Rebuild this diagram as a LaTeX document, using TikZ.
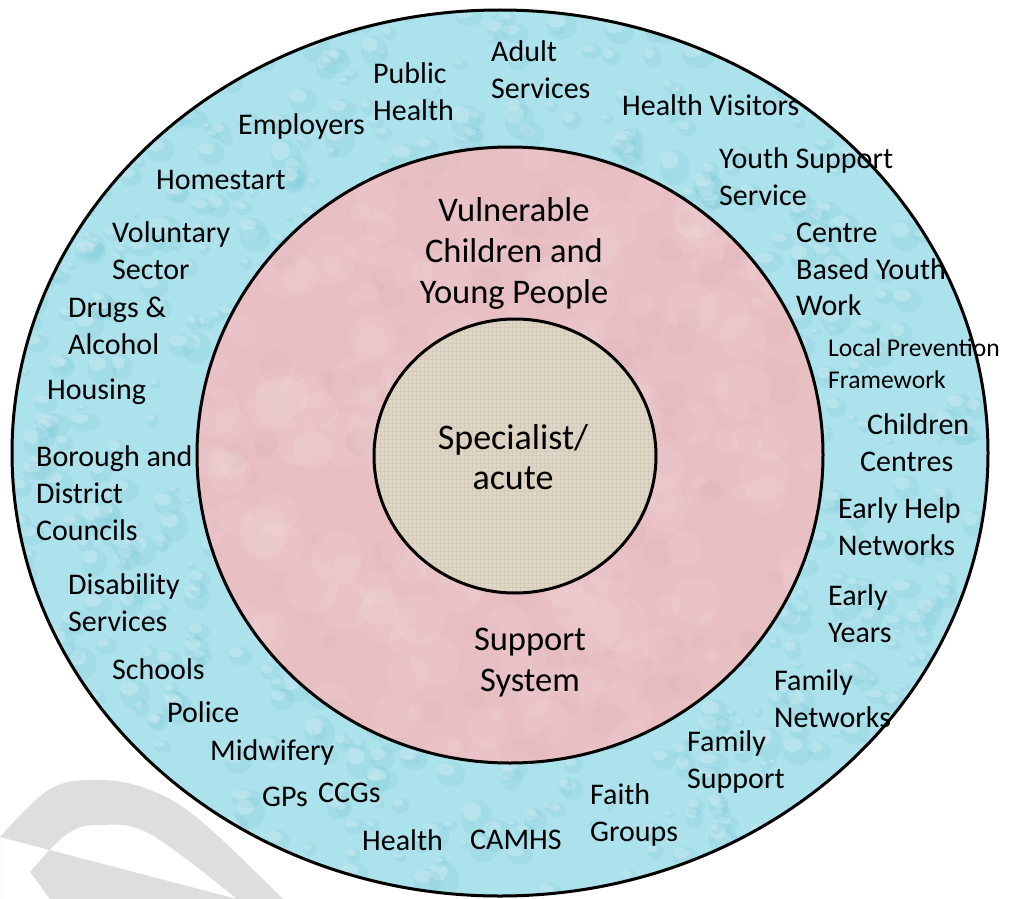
\documentclass[tikz,border=0pt]{standalone}
\usepackage{fontspec}
\setmainfont{Carlito}
\definecolor{ringblue}{HTML}{ACE2EC}
\definecolor{dropblue}{HTML}{6FBFD3}
\definecolor{ringpink}{HTML}{E8BFC3}
\definecolor{corebeige}{HTML}{DFD6C6}
\definecolor{wmgrey}{HTML}{DEDEDE}
\newcommand\outerfs{\fontsize{30}{36.8}\selectfont}
\newcommand\smallfs{\fontsize{25.6}{32}\selectfont}
\newcommand\innerfs{\fontsize{34.5}{41}\selectfont}
\newcommand\corefs{\fontsize{36}{40}\selectfont}
\tikzset{
  lbl/.style={anchor=west, align=left, inner sep=0pt, font=\outerfs, text=black},
  lblsmall/.style={lbl, font=\smallfs},
  ctr/.style={anchor=center, align=center, inner sep=0pt, font=\innerfs, text=black},
  ringline/.style={draw=black, line width=3pt}
}
\begin{document}
\begin{tikzpicture}[x=1pt,y=-1pt]
\useasboundingbox (0,0) rectangle (1010,899);
\fill[white] (0,0) rectangle (1010,899);
% watermark
\fill[wmgrey] (0,899) -- (0,837)
  plot[smooth, tension=0.6] coordinates {(0,837) (50,789) (100,780) (150,790) (200,820) (283,899)}
  -- (237,899)
  plot[smooth, tension=0.6] coordinates {(237,899) (150,834) (100,825) (67,834) (30,872)}
  -- (50,899) -- cycle;
% fills
\fill[ringblue] (500,453) ellipse [x radius=488, y radius=443];
\begin{scope}[even odd rule]
  \clip (500,453) ellipse [x radius=488, y radius=443] (510,455) ellipse [x radius=313, y radius=308];
  \pgfmathsetseed{11}
  \foreach \i in {1,...,1100} {
    \pgfmathsetmacro\px{12+rnd*976}
    \pgfmathsetmacro\py{10+rnd*887}
    \pgfmathsetmacro\rx{4+rnd*12}
    \pgfmathsetmacro\ry{\rx*(0.6+rnd*0.6)}
    \fill[dropblue, opacity=0.16] (\px+0.15*\rx,\py+0.15*\ry) ellipse [x radius=\rx, y radius=\ry];
    \fill[white, opacity=0.22] (\px-0.2*\rx,\py-0.25*\ry) ellipse [x radius=0.6*\rx, y radius=0.5*\ry];
  }
\end{scope}
\fill[ringpink] (510,455) ellipse [x radius=313, y radius=308];
\begin{scope}
  \clip (510,455) ellipse [x radius=313, y radius=308];
  \pgfmathsetseed{5}
  \foreach \i in {1,...,220} {
    \pgfmathsetmacro\px{197+rnd*626}
    \pgfmathsetmacro\py{147+rnd*616}
    \pgfmathsetmacro\rr{6+rnd*22}
    \fill[white, opacity=0.07] (\px,\py) circle [radius=\rr];
  }
  \foreach \i in {1,...,160} {
    \pgfmathsetmacro\px{197+rnd*626}
    \pgfmathsetmacro\py{147+rnd*616}
    \pgfmathsetmacro\rr{4+rnd*14}
    \fill[ringpink!80!black, opacity=0.05] (\px,\py) circle [radius=\rr];
  }
\end{scope}
\fill[corebeige] (515,456) ellipse [x radius=141, y radius=137];
\begin{scope}
  \clip (515,456) ellipse [x radius=141, y radius=137];
  \foreach \k in {0,4,...,290} {
    \draw[black!60!brown, opacity=0.05, line width=0.8pt] (372+\k,315) -- (372+\k,597);
    \draw[black!60!brown, opacity=0.05, line width=0.8pt] (372,315+\k) -- (660,315+\k);
  }
\end{scope}
% labels in outer ring
\node[lbl] (adult) at (491,69.5) {Adult\\Services};
\node[lbl] (pubhealth) at (373,91.5) {Public\\Health};
\node[lbl] (employers) at (238,127) {Employers};
\node[lbl] (healthvis) at (622,105) {Health Visitors};
\node[lbl] (homestart) at (156,180) {Homestart};
\node[lbl] (youth) at (719,176.5) {Youth Support\\Service};
\node[lbl] (voluntary) at (112,250.5) {Voluntary\\Sector};
\node[lbl] (centre) at (796,269.5) {Centre\\Based Youth\\Work};
\node[lbl] (drugs) at (68,325.5) {Drugs \&\\Alcohol};
\node[lbl] (housing) at (47,392) {Housing};
\node[lblsmall] (localprev) at (828,364) {Local Prevention\\Framework};
\node[lbl] (children) at (860,442.5) {\hspace*{7pt}Children\\Centres};
\node[lbl] (borough) at (36,493) {Borough and\\District\\Councils};
\node[lbl] (earlyhelp) at (838,526.5) {Early Help\\Networks};
\node[lbl] (disability) at (68,602.5) {Disability\\Services};
\node[lbl] (earlyyears) at (828,614) {Early\\Years};
\node[lbl] (schools) at (112,669) {Schools};
\node[lbl] (famnet) at (774,699) {Family\\Networks};
\node[lbl] (police) at (167,712) {Police};
\node[lbl] (famsup) at (687,762) {Family\\Support};
\node[lbl] (midwifery) at (210,752) {Midwifery};
\node[lbl] (gps) at (262,797) {GPs};
\node[lbl] (ccgs) at (318,793) {CCGs};
\node[lbl] (faith) at (590,815) {Faith\\Groups};
\node[lbl] (health) at (362,840) {Health};
\node[lbl] (camhs) at (470,840) {CAMHS};
% inner labels
\node[ctr] (vulnerable) at (514,253) {Vulnerable\\Children and\\Young People};
\node[ctr, font=\corefs] (specialist) at (513,457) {Specialist/\\acute};
\node[ctr] (support) at (530,663) {Support\\System};
% outlines on top
\draw[ringline] (500,453) ellipse [x radius=488, y radius=443];
\draw[ringline] (510,455) ellipse [x radius=313, y radius=308];
\draw[ringline] (515,456) ellipse [x radius=141, y radius=137];
\end{tikzpicture}
\end{document}
